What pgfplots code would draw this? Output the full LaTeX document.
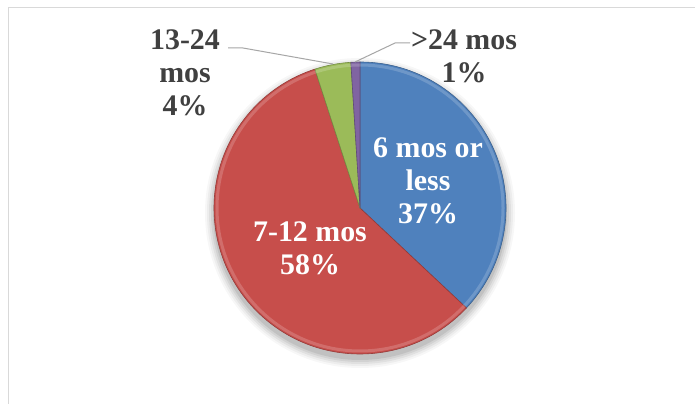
\documentclass[border=0pt]{standalone}
\usepackage{pgfplots}
\pgfplotsset{compat=1.18}
\usepackage{pgfplotstable}
\usepackage{fontspec}
\setmainfont{Liberation Serif}
\definecolor{pieblue}{RGB}{79,129,189}
\definecolor{piered}{RGB}{199,78,75}
\definecolor{piegreen}{RGB}{155,187,89}
\definecolor{piepurple}{RGB}{128,100,162}
\definecolor{labgray}{RGB}{64,64,64}
\definecolor{framegray}{RGB}{217,217,217}
\definecolor{leadgray}{RGB}{166,166,166}
\tikzset{lab/.style={font=\fontsize{30}{33}\selectfont\bfseries, align=center, inner sep=0pt}}
\pgfplotstableread{
label value
six 37
twelve 58
twentyfour 4
more 1
}\piedata
\begin{document}
\begin{tikzpicture}
\pgfplotstablegetelem{0}{value}\of\piedata \let\vA\pgfplotsretval
\pgfplotstablegetelem{1}{value}\of\piedata \let\vB\pgfplotsretval
\pgfplotstablegetelem{2}{value}\of\piedata \let\vC\pgfplotsretval
\pgfplotstablegetelem{3}{value}\of\piedata \let\vD\pgfplotsretval
\pgfmathsetmacro\aA{90}
\pgfmathsetmacro\aB{\aA-3.6*\vA}
\pgfmathsetmacro\aC{\aB-3.6*\vB}
\pgfmathsetmacro\aD{\aC-3.6*\vC}
\pgfmathsetmacro\aE{\aD-3.6*\vD}
\def\R{146bp}
\begin{axis}[
  scale only axis, width=695bp, height=404bp,
  xmin=0, xmax=695, ymin=0, ymax=404,
  hide axis, clip=true,
]
\fill[white] (rel axis cs:0,0) rectangle (rel axis cs:1,1);
% frame
\draw[framegray, line width=1.6bp] (axis cs:8.5,-2) -- (axis cs:8.5,396.5) -- (axis cs:700,396.5);
% shadow
\fill[black, opacity=0.03] (axis cs:360,191) circle[radius=155bp];
\fill[black, opacity=0.04] (axis cs:360,191) circle[radius=153bp];
\fill[black, opacity=0.05] (axis cs:360,191) circle[radius=151bp];
\fill[black, opacity=0.06] (axis cs:360,191) circle[radius=149bp];
\fill[black, opacity=0.08] (axis cs:360,191) circle[radius=147bp];
% wedges
\fill[pieblue, draw=pieblue!75!black, line width=0.6bp] (axis cs:360,196) -- ++(\aA:\R) arc[start angle=\aA, end angle=\aB, radius=\R] -- cycle;
\fill[piered, draw=piered!75!black, line width=0.6bp] (axis cs:360,196) -- ++(\aB:\R) arc[start angle=\aB, end angle=\aC, radius=\R] -- cycle;
\fill[piegreen, draw=piegreen!75!black, line width=0.6bp] (axis cs:360,196) -- ++(\aC:\R) arc[start angle=\aC, end angle=\aD, radius=\R] -- cycle;
\fill[piepurple, draw=piepurple!75!black, line width=0.6bp] (axis cs:360,196) -- ++(\aD:\R) arc[start angle=\aD, end angle=\aE, radius=\R] -- cycle;
% bevel highlight
\draw[white, opacity=0.18, line width=3bp] (axis cs:360,196) ++(\aA:143bp) arc[start angle=\aA, end angle=\aE, radius=143bp];
% leader lines
\draw[leadgray, line width=1bp] (axis cs:228,356) -- (axis cs:243,356) -- (axis cs:333,340);
\draw[leadgray, line width=1bp] (axis cs:410,361) -- (axis cs:395,361) -- (axis cs:355,342);
% labels
\node[lab, white] at (axis cs:428,223) {6 mos or\\less\\37\%};
\node[lab, white] at (axis cs:310,156) {7-12 mos\\58\%};
\node[lab, labgray] at (axis cs:185,331) {13-24\\mos\\4\%};
\node[lab, labgray] at (axis cs:464,348) {>24 mos\\1\%};
\end{axis}
\end{tikzpicture}
\end{document}
